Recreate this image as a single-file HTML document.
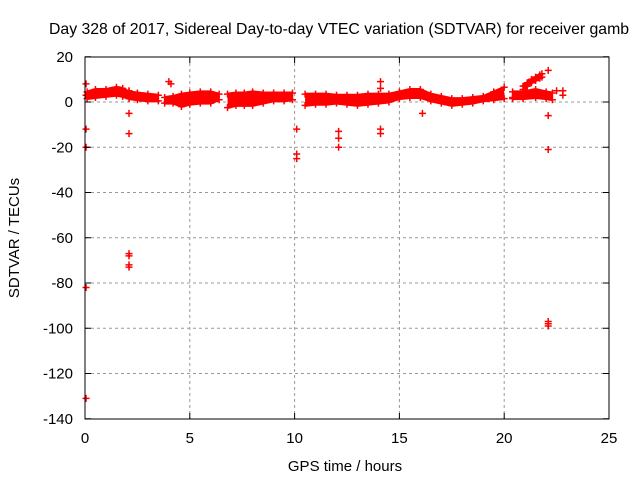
<!DOCTYPE html>
<html><head><meta charset="utf-8"><style>
body{margin:0;background:#fff;}
svg{display:block;font-family:"Liberation Sans",sans-serif;}
</style></head><body>
<svg id="chart" width="640" height="480">
<text x="49" y="34" font-size="15.8" fill="#000">Day 328 of 2017, Sidereal Day-to-day VTEC variation (SDTVAR) for receiver gamb</text>
<g id="grid"></g>
<g id="band"></g>
<g id="marks"></g>
<rect x="85" y="57" width="524" height="362" fill="none" stroke="#000" stroke-width="1"/>
<g id="ticks"></g>
<text x="345" y="471" font-size="15" text-anchor="middle">GPS time / hours</text>
<text transform="translate(19,238) rotate(-90)" font-size="15" text-anchor="middle">SDTVAR / TECUs</text>
</svg>
<script>
const xTicks=[0,5,10,15,20,25];
const yTicks=[20,0,-20,-40,-60,-80,-100,-120,-140];
// band: time, low, high (null = gap)
const bandT=[0.1,0.5,1.0,1.5,1.8,2.1,2.5,3.0,3.5,null,3.8,4.2,4.6,5.0,5.5,6.0,6.4,null,6.8,7.2,7.6,8.0,8.5,9.0,9.5,9.9,null,10.5,11.0,11.5,12.0,12.5,13.0,13.5,14.0,14.5,15.0,15.5,16.0,16.5,17.0,17.5,18.0,18.5,19.0,19.5,20.0,null,20.4,20.9,21.5,22.0,22.3];
const bandLo=[1.5,2,2.5,3,2.5,1.5,1,0.5,0.5,null,-0.5,-0.5,-2,-1,-0.5,-0.5,1,null,-2.5,-1.5,-1.5,-1.5,-0.5,0.5,0.5,1,null,-1.5,-1,-1,-0.5,-1,-1.5,-1,-0.5,0,1.5,2,2,0.5,-0.5,-1.5,-1,-0.5,0.5,1,1.5,null,1.5,1.5,2,1.5,1];
const bandHi=[4.5,5.5,5.5,6.5,6,4.5,4,3.5,3,null,2,2.5,3.5,4,4.5,4.5,3.5,null,3.5,4,4,4.5,4,4,4,4,null,3.5,3.5,3.5,3,3,3,3.5,3.5,3.5,4.5,5.5,5.5,3.5,2.5,1.5,1.5,2,2.5,4.5,6.5,null,4.5,4.5,5.5,4.5,4];
// rising streak
const streakT=[20.9,21.1,21.3,21.5,21.7,21.8];
const streakV=[7,8.5,10,11,12,12.5];
// outliers
const outT=[0.05,0.05,0.05,0.05,0.05,0.05,2.1,2.1,2.1,2.1,2.1,2.1,2.1,4.0,4.1,10.1,10.1,10.1,12.1,12.1,12.1,14.1,14.1,14.1,14.1,16.1,22.1,22.1,22.1,22.1,22.1,22.1,22.5,22.8,22.8,20.4];
const outV=[8,3,-12,-20,-82,-131,5,-5,-14,-67,-68,-72,-73,9,8,-12,-23,-25,-13,-16,-20,-12,-14,6,9,-5,14,-6,-21,-97,-98,-99,5,5,3,2];
const X=t=>85+t*524/25, Y=v=>102-v*362/160;
const NS="http://www.w3.org/2000/svg";
function mk(tag,parent,attrs){const e=document.createElementNS(NS,tag);for(const k in attrs)e.setAttribute(k,attrs[k]);parent.appendChild(e);return e;}
const grid=document.getElementById('grid'),ticks=document.getElementById('ticks');
xTicks.forEach(t=>{
 if(t>0&&t<25){const g=mk('line',grid,{x1:X(t),x2:X(t),y1:57,y2:419,stroke:'#999','stroke-dasharray':'3,3'});
 
 }
 mk('line',ticks,{x1:X(t),x2:X(t),y1:419,y2:413,stroke:'#000'});
 mk('line',ticks,{x1:X(t),x2:X(t),y1:57,y2:63,stroke:'#000'});
 const l=mk('text',ticks,{x:X(t),y:443,'font-size':15,'text-anchor':'middle'});l.textContent=t;
 
 
});
yTicks.forEach(v=>{
 if(v<20&&v>-140){const g=mk('line',grid,{x1:85,x2:609,y1:Y(v),y2:Y(v),stroke:'#999','stroke-dasharray':'3,3'});
 
 }
 mk('line',ticks,{x1:85,x2:91,y1:Y(v),y2:Y(v),stroke:'#000'});
 mk('line',ticks,{x1:603,x2:609,y1:Y(v),y2:Y(v),stroke:'#000'});
 const l=mk('text',ticks,{x:73,y:Y(v)+5,'font-size':15,'text-anchor':'end'});l.textContent=v;
 
 
});
const band=document.getElementById('band'),marks=document.getElementById('marks');
function plus(t,v){const p=mk('path',marks,{d:`M${X(t)-3.5},${Y(v)}h7M${X(t)},${Y(v)-3.5}v7`,stroke:'#f00','stroke-width':1.5,fill:'none'});
 
 }
let seg=[];
function flush(){if(seg.length<2){seg=[];return;}
 const top=seg.map(i=>`${X(bandT[i])},${Y(bandHi[i])-1.5}`),bot=seg.slice().reverse().map(i=>`${X(bandT[i])},${Y(bandLo[i])+1.5}`);
 const p=mk('polygon',band,{points:top.concat(bot).join(' '),fill:'#f00'});
 
 
 seg=[];}
bandT.forEach((t,i)=>{if(t===null){flush();}else{seg.push(i);plus(t,bandLo[i]);plus(t,bandHi[i]);}});
flush();
streakT.forEach((t,i)=>{plus(t,streakV[i]);plus(t,streakV[i]-1.5);});
const sp=mk('polyline',band,{points:streakT.map((t,i)=>`${X(t)},${Y(streakV[i]-0.75)}`).join(' '),stroke:'#f00','stroke-width':6,fill:'none'});


outT.forEach((t,i)=>plus(t,outV[i]));
</script>
</body></html>
